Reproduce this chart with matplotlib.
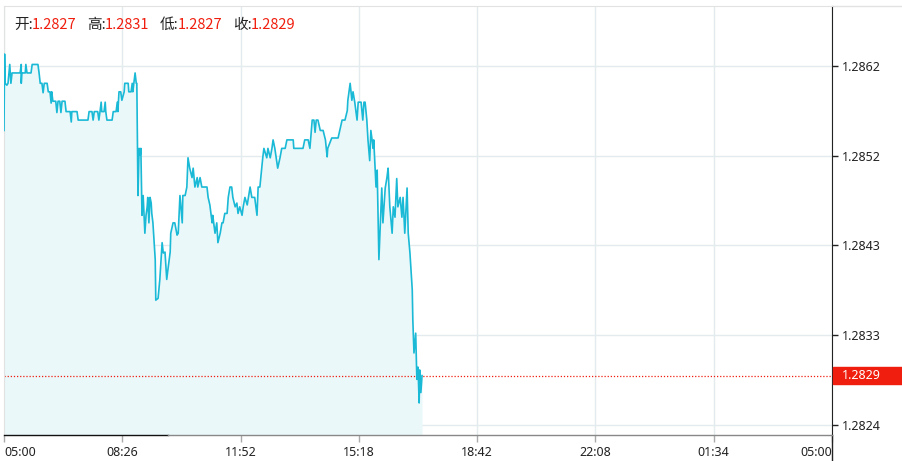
import matplotlib
matplotlib.use("Agg")
import matplotlib.pyplot as plt
from matplotlib.patches import Rectangle
from matplotlib.lines import Line2D
import matplotlib.transforms as mtransforms

# minutes after 05:00 and price
minutes = [0, 1, 2, 5, 7, 10, 12, 14, 21, 28, 30, 30, 31, 37, 38, 40, 47, 49, 59, 61,
           63, 66, 68, 70, 75, 77, 80, 82, 83, 85, 90, 92, 94, 97, 99, 101, 106, 108, 115, 117,
           118, 123, 127, 129, 141, 146, 148, 153, 155, 157, 163, 165, 167, 169, 170, 174, 176, 177, 179, 188,
           190, 195, 197, 198, 200, 203, 205, 209, 210, 216, 217, 221, 223, 224, 228, 230, 231,
           233, 235, 237, 238, 240, 242, 245, 247, 249, 250, 252, 254, 256, 257, 259, 263, 264, 268, 271,
           275, 277, 280, 283, 285, 289, 290, 294, 297, 301, 303, 306, 310, 311, 315, 318, 320, 323, 327, 329,
           332, 336, 337, 341, 344, 350, 353, 355, 358, 362, 363, 367, 370, 372, 376, 379, 381, 384, 388, 390,
           393, 396, 398, 402, 405, 407,
           410, 414, 416, 419, 423, 428, 431, 436, 440, 442, 445, 450, 452, 457, 459, 463, 466, 468, 471, 476,
           480, 483, 489, 492, 497, 503, 504, 510, 515, 520, 523, 529, 532, 536, 539, 541, 543, 546, 550, 555,
           559, 562, 563, 570, 576, 581, 584, 588, 593, 597, 598, 602, 605, 607, 610, 614, 616, 621, 624, 626,
           628, 631, 633, 636, 638, 642, 643, 647, 649, 652, 657, 659, 663, 666, 668, 671, 675, 677, 680, 683,
           685, 689, 692, 694, 697, 701, 703, 706, 710, 711, 713, 716, 718, 720, 722, 723, 725, 727]
prices = [1.28550, 1.28631, 1.28600, 1.28598, 1.28600, 1.28620, 1.28600, 1.28611, 1.28611, 1.28611,
          1.28620, 1.28600, 1.28611, 1.28611, 1.28620, 1.28611, 1.28611, 1.28620, 1.28620, 1.28611,
          1.28600, 1.28600, 1.28590, 1.28600, 1.28600, 1.28591, 1.28591, 1.28579, 1.28591, 1.28581,
          1.28581, 1.28569, 1.28581, 1.28581, 1.28569, 1.28581, 1.28581, 1.28570, 1.28570, 1.28559,
          1.28570, 1.28570, 1.28570, 1.28561, 1.28561, 1.28561, 1.28570, 1.28570, 1.28561, 1.28570,
          1.28570, 1.28561, 1.28570, 1.28580, 1.28570, 1.28570, 1.28580, 1.28570, 1.28561, 1.28561,
          1.28570, 1.28570, 1.28580, 1.28570, 1.28591, 1.28591, 1.28582, 1.28591, 1.28600, 1.28600,
          1.28591, 1.28591, 1.28600, 1.28591, 1.28611, 1.28600, 1.28600,
          1.28481, 1.28531, 1.28524, 1.28531, 1.28460, 1.28481, 1.28441, 1.28460, 1.28469, 1.28479,
          1.28452, 1.28479, 1.28473, 1.28462, 1.28452, 1.28413, 1.28370, 1.28372, 1.28392, 1.28431,
          1.28420, 1.28421, 1.28392, 1.28402, 1.28421, 1.28441, 1.28452, 1.28452, 1.28439, 1.28441,
          1.28481, 1.28452, 1.28481, 1.28481, 1.28490, 1.28521, 1.28510, 1.28500, 1.28510, 1.28490,
          1.28500, 1.28490, 1.28500, 1.28490, 1.28490, 1.28490, 1.28479, 1.28471, 1.28452, 1.28460,
          1.28441, 1.28452, 1.28431, 1.28441, 1.28452, 1.28452, 1.28462, 1.28462, 1.28479, 1.28490,
          1.28490, 1.28479, 1.28469, 1.28473, 1.28462,
          1.28469, 1.28460, 1.28469, 1.28479, 1.28471, 1.28490, 1.28479, 1.28479, 1.28460, 1.28490,
          1.28490, 1.28521, 1.28531, 1.28521, 1.28531, 1.28521, 1.28531, 1.28540, 1.28531, 1.28510,
          1.28521, 1.28531, 1.28531, 1.28540, 1.28540, 1.28540, 1.28531, 1.28531, 1.28531, 1.28531,
          1.28540, 1.28540, 1.28531, 1.28561, 1.28561, 1.28548, 1.28561, 1.28561, 1.28550, 1.28550,
          1.28540, 1.28522, 1.28531, 1.28542, 1.28542, 1.28542, 1.28550, 1.28561, 1.28561, 1.28571,
          1.28582, 1.28600, 1.28582, 1.28591, 1.28580, 1.28561, 1.28580, 1.28580, 1.28561, 1.28580,
          1.28580, 1.28561, 1.28540, 1.28518, 1.28550, 1.28531, 1.28540, 1.28490, 1.28508, 1.28413,
          1.28489, 1.28452, 1.28489, 1.28500, 1.28510, 1.28469, 1.28441, 1.28469, 1.28458, 1.28499,
          1.28469, 1.28479, 1.28458, 1.28479, 1.28441, 1.28489, 1.28441, 1.28420, 1.28381, 1.28349,
          1.28314, 1.28335, 1.28286, 1.28299, 1.28261, 1.28296, 1.28272, 1.28290]

x_ticks = [0, 1440 / 7, 2880 / 7, 4320 / 7, 5760 / 7, 7200 / 7, 8640 / 7, 1440]
x_labels = ["05:00", "08:26", "11:52", "15:18", "18:42", "22:08", "01:34", "05:00"]
y_ticks = [1.28238, 1.28333, 1.28428, 1.28523, 1.28618]

open_p, high_p, low_p, close_p = "1.2827", "1.2831", "1.2827", "1.2829"
close_val = 1.28290

line_c = "#1ab9d6"
fill_c = "#eaf8fa"
grid_c = "#e3ebef"
red_c = "#f01e0e"

W, H = 903, 461
fig = plt.figure(figsize=(W / 100, H / 100), dpi=100)
ax = fig.add_axes([4 / W, 26 / H, 828 / W, 429 / H])

ax.fill_between(minutes, prices, 1.28227, color=fill_c, lw=0, zorder=1)
ax.plot(minutes, prices, color=line_c, lw=1.2, zorder=3)
ax.axhline(close_val, color=red_c, lw=0.9, ls=(0, (1, 1.5)), zorder=2)

ax.set_xlim(0, 1440)
ax.set_ylim(1.28227, 1.28682)
ax.set_xticks(x_ticks)
ax.set_xticklabels(x_labels)
ax.set_yticks(y_ticks)
ax.set_yticklabels(["%.4f" % v for v in y_ticks])
ax.yaxis.tick_right()
ax.grid(True, color=grid_c, lw=1)
ax.set_axisbelow(True)

for lab in ax.get_xticklabels():
    lab.set_fontfamily("Noto Sans")
    lab.set_fontsize(9)
    lab.set_color("#222222")
for lab in ax.get_yticklabels():
    lab.set_fontfamily("Noto Sans")
    lab.set_fontsize(9)
    lab.set_color("#222222")
xl = ax.get_xticklabels()
xl[0].set_horizontalalignment("left")
xl[-1].set_horizontalalignment("right")

ax.tick_params(axis="x", length=5, width=1, color="#aaaaaa", pad=3)
ax.tick_params(axis="y", length=4, width=1, color="#222222", pad=3)

ax.spines["left"].set_color("#e2e2e2")
ax.spines["top"].set_color("#e2e2e2")
ax.spines["right"].set_color("#222222")
ax.spines["bottom"].set_visible(False)

# bottom axis line, dark on the left part
ax.add_line(Line2D([0, 0.198], [0, 0], transform=ax.transAxes, color="#111111", lw=1, clip_on=False, zorder=5))
ax.add_line(Line2D([0.198, 1], [0, 0], transform=ax.transAxes, color="#888888", lw=1, clip_on=False, zorder=5))
# right axis runs to the bottom edge, top border runs to the right edge
ax.add_line(Line2D([1, 1], [0, -26 / 429], transform=ax.transAxes, color="#222222", lw=1, clip_on=False))
ax.add_line(Line2D([1, 71 / 828 + 1], [1, 1], transform=ax.transAxes, color="#e2e2e2", lw=1, clip_on=False))

# last price tag
trans = mtransforms.blended_transform_factory(ax.transAxes, ax.transData)
ax.add_patch(Rectangle((1.0015, close_val - 0.0000905), 70 / 828, 0.000181, transform=trans,
                       color=red_c, clip_on=False, zorder=6))
ax.text(1 + 10 / 828, close_val, close_p, transform=trans, color="white", fontsize=9,
        family="Noto Sans", va="center", ha="left", zorder=7)

# header
fam = ["Noto Sans CJK SC", "DejaVu Sans"]
items = [("开:", open_p, 14), ("高:", high_p, 87), ("低:", low_p, 160), ("收:", close_p, 233)]
for name, val, px in items:
    fig.text(px / W, 1 - 25 / H, name, family=fam, fontsize=10.5, color="#222222", va="center")
    fig.text((px + 18) / W, 1 - 25 / H, val, family=fam, fontsize=10.5, color=red_c, va="center")

fig.savefig("out.png", dpi=100)
